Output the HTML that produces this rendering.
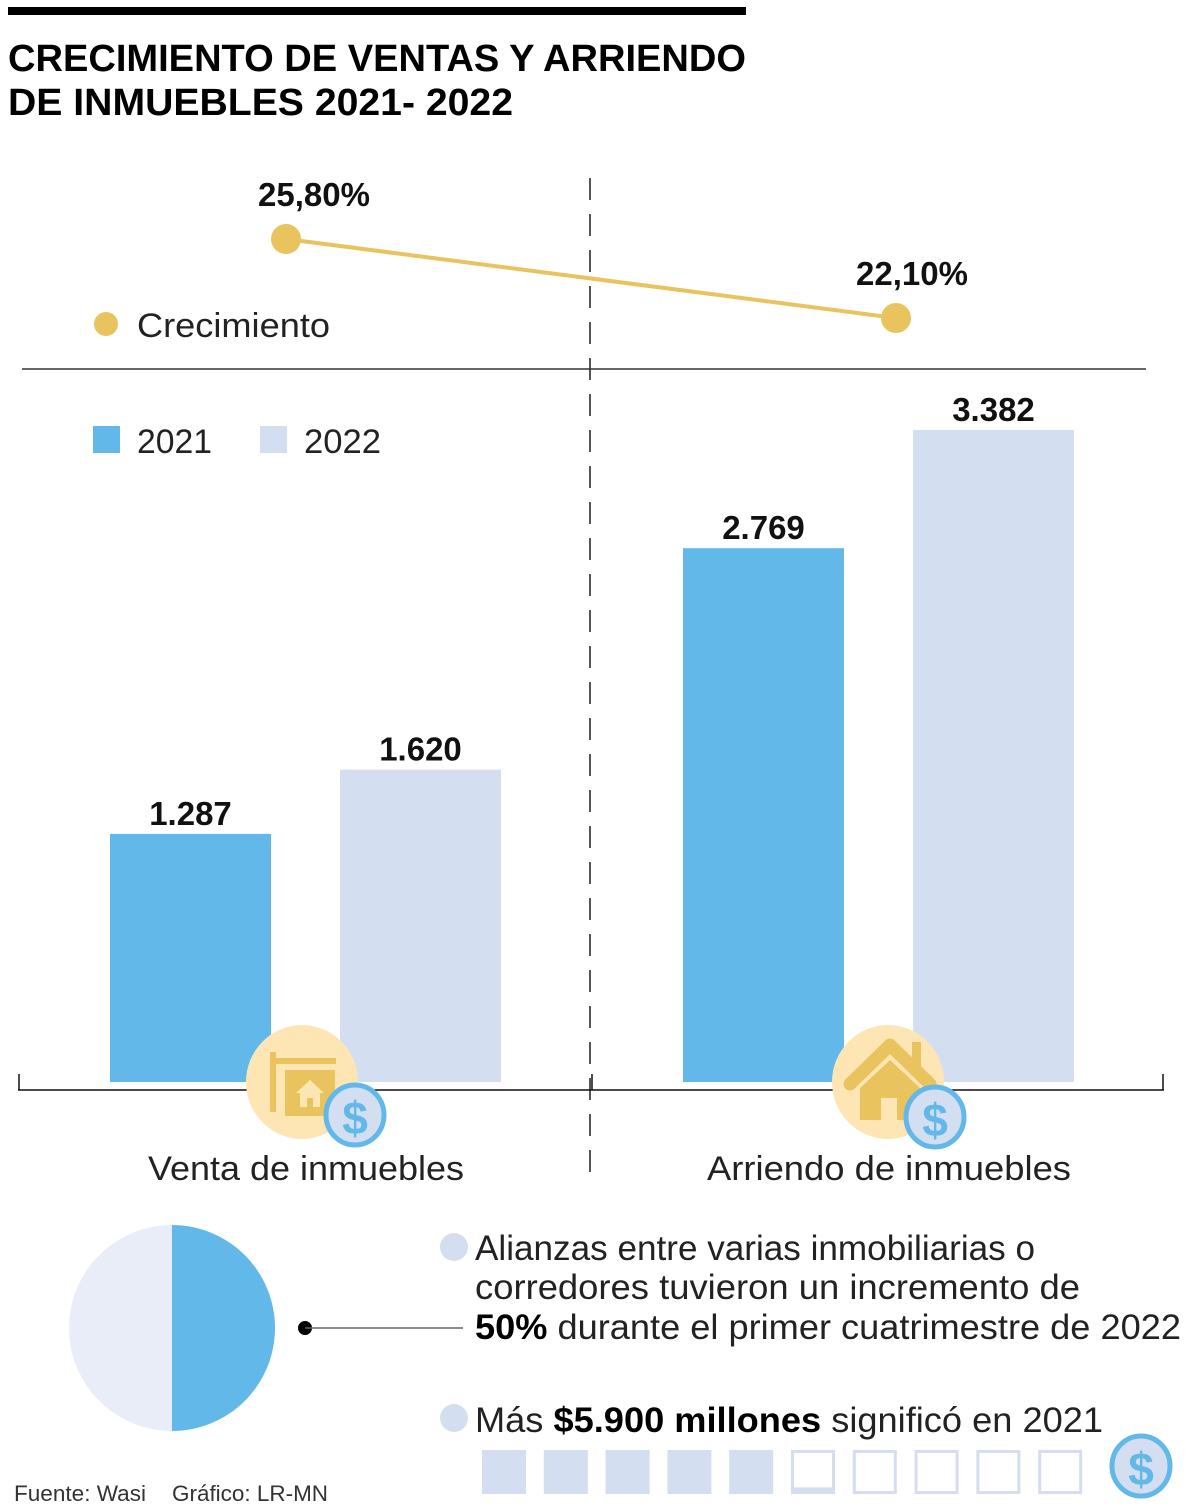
<!DOCTYPE html>
<html><head><meta charset="utf-8"><style>
html,body{margin:0;padding:0;background:#fff;}
svg{display:block;font-family:"Liberation Sans",sans-serif;}
</style></head><body>
<svg id="chart" width="1200" height="1510" viewBox="0 0 1200 1510" xmlns="http://www.w3.org/2000/svg">
<rect x="8" y="7" width="738" height="8" fill="#000"/>
<text x="8" y="71" font-size="38" font-weight="bold" textLength="738" lengthAdjust="spacingAndGlyphs">CRECIMIENTO DE VENTAS Y ARRIENDO</text>
<text x="8" y="115" font-size="38" font-weight="bold" textLength="505" lengthAdjust="spacingAndGlyphs">DE INMUEBLES 2021- 2022</text>

<line x1="590" y1="178" x2="590" y2="1180" stroke="#555" stroke-width="2" stroke-dasharray="22,14"/>
<line x1="22" y1="369" x2="1146" y2="369" stroke="#333" stroke-width="1.5"/>

<g id="lineG"></g>
<circle cx="106" cy="324" r="12" fill="#e9c35e"/>
<text x="137" y="337" font-size="34" fill="#222" textLength="193" lengthAdjust="spacingAndGlyphs">Crecimiento</text>

<rect x="93" y="426" width="27" height="27" fill="#62b8e8"/>
<text x="137" y="453" font-size="34" fill="#222" textLength="75" lengthAdjust="spacingAndGlyphs">2021</text>
<rect x="260" y="426" width="27" height="27" fill="#d3def0"/>
<text x="304" y="453" font-size="34" fill="#222" textLength="77" lengthAdjust="spacingAndGlyphs">2022</text>

<g id="barG"></g>
<line x1="18" y1="1090" x2="1164" y2="1090" stroke="#111" stroke-width="1.5"/>
<line x1="19" y1="1074" x2="19" y2="1090" stroke="#111" stroke-width="1.5"/>
<line x1="592" y1="1074" x2="592" y2="1090" stroke="#111" stroke-width="1.5"/>
<line x1="1163" y1="1074" x2="1163" y2="1090" stroke="#111" stroke-width="1.5"/>

<!-- icon 1: sale sign -->
<g>
<ellipse cx="302" cy="1082" rx="56" ry="57" fill="#fde6b4"/>
<rect x="270" y="1052" width="6" height="60" fill="#e9c35e"/>
<rect x="270" y="1058" width="66" height="6" fill="#e9c35e"/>
<rect x="285" y="1070" width="50" height="46" fill="#e9c35e"/>
<polygon points="310,1080 296,1093 324,1093" fill="#fde6b4"/>
<rect x="300" y="1093" width="20" height="14" fill="#fde6b4"/>
<rect x="307" y="1098" width="6" height="9" fill="#e9c35e"/>
<ellipse cx="355" cy="1115" rx="29" ry="30" fill="#d3def0" stroke="#62b8e8" stroke-width="5"/>
<text x="355" y="1134" font-size="46" font-weight="bold" fill="#62b8e8" text-anchor="middle">$</text>
</g>
<!-- icon 2: house -->
<g>
<ellipse cx="888" cy="1082" rx="56" ry="57" fill="#fde6b4"/>
<polyline points="850,1084 890,1045 930,1084" fill="none" stroke="#e9c35e" stroke-width="13" stroke-linecap="round" stroke-linejoin="round"/>
<rect x="912" y="1042" width="9" height="26" fill="#e9c35e"/>
<polygon points="890,1060 860,1088 860,1120 920,1120 920,1088" fill="#e9c35e"/>
<rect x="881" y="1098" width="16" height="22" fill="#fde6b4"/>
<ellipse cx="935" cy="1117" rx="29" ry="30" fill="#d3def0" stroke="#62b8e8" stroke-width="5"/>
<text x="935" y="1136" font-size="46" font-weight="bold" fill="#62b8e8" text-anchor="middle">$</text>
</g>

<text x="306" y="1180" font-size="34" fill="#222" text-anchor="middle" textLength="316" lengthAdjust="spacingAndGlyphs">Venta de inmuebles</text>
<text x="889" y="1180" font-size="34" fill="#222" text-anchor="middle" textLength="364" lengthAdjust="spacingAndGlyphs">Arriendo de inmuebles</text>

<g id="pieG"></g>
<circle cx="305" cy="1328" r="7" fill="#000"/>
<line x1="305" y1="1328" x2="463" y2="1328" stroke="#666" stroke-width="1.5"/>

<circle cx="454" cy="1247" r="14" fill="#d3def0"/>
<text x="475" y="1260" font-size="35" fill="#222" textLength="560" lengthAdjust="spacingAndGlyphs">Alianzas entre varias inmobiliarias o</text>
<text x="475" y="1299" font-size="35" fill="#222" textLength="605" lengthAdjust="spacingAndGlyphs">corredores tuvieron un incremento de</text>
<text x="475" y="1339" font-size="35" fill="#222" textLength="706" lengthAdjust="spacingAndGlyphs"><tspan font-weight="bold" fill="#000">50%</tspan> durante el primer cuatrimestre de 2022</text>

<circle cx="454" cy="1418" r="14" fill="#d3def0"/>
<text x="475" y="1432" font-size="35" fill="#222" textLength="628" lengthAdjust="spacingAndGlyphs">Más <tspan font-weight="bold" fill="#000">$5.900 millones</tspan> significó en 2021</text>

<g id="sqG"></g>
<ellipse cx="1141" cy="1466" rx="29" ry="30" fill="#d3def0" stroke="#62b8e8" stroke-width="5"/>
<text x="1141" y="1485" font-size="46" font-weight="bold" fill="#62b8e8" text-anchor="middle">$</text>

<text x="14" y="1501" font-size="22" fill="#333" textLength="132" lengthAdjust="spacingAndGlyphs">Fuente: Wasi</text>
<text x="172" y="1501" font-size="22" fill="#333" textLength="156" lengthAdjust="spacingAndGlyphs">Gráfico: LR-MN</text>
</svg>
<script>
const categories = ["Venta de inmuebles", "Arriendo de inmuebles"];
const values2021 = [1287, 2769];
const values2022 = [1620, 3382];
const labels2021 = ["1.287", "2.769"];
const labels2022 = ["1.620", "3.382"];
const growthValues = [25.8, 22.1];
const growthLabels = ["25,80%", "22,10%"];
const pieShares = [50, 50];
const squareFill = [1, 1, 1, 1, 1, 0.15, 0, 0, 0, 0];

const NS = "http://www.w3.org/2000/svg";
function mk(tag, attrs, parent){const e=document.createElementNS(NS,tag);for(const k in attrs)e.setAttribute(k,attrs[k]);parent.appendChild(e);return e;}

// bar scale
const baseY = 1082, maxV = 3382, maxH = 652;
const yB = v => baseY - v / maxV * maxH;
const groupX = [110, 683], barW = 161, gap = 69;
const barG = document.getElementById('barG');
categories.forEach((c, i) => {
  [[values2021, labels2021, '#62b8e8', '2021'], [values2022, labels2022, '#d3def0', '2022']].forEach((s, j) => {
    const x = groupX[i] + j * (barW + gap);
    const y = yB(s[0][i]);
    const r = mk('rect', {x: x, y: y, width: barW, height: baseY - y, fill: s[2]}, barG);
    
    
    const t = mk('text', {x: x + barW / 2, y: y - 9, 'font-size': 33, 'font-weight': 'bold', 'text-anchor': 'middle', fill: '#111'}, barG);
    t.textContent = s[1][i];
    
    
  });
});

// growth line scale
const yL = v => 239 + (25.8 - v) / (25.8 - 22.1) * 79;
const lineX = [286, 896];
const lineG = document.getElementById('lineG');
const pl = mk('polyline', {points: growthValues.map((v, i) => lineX[i] + ',' + yL(v)).join(' '), fill: 'none', stroke: '#e9c35e', 'stroke-width': 4}, lineG);


growthValues.forEach((v, i) => {
  const c = mk('circle', {cx: lineX[i], cy: yL(v), r: 15, fill: '#e9c35e'}, lineG);
  
  
  const t = mk('text', {x: lineX[i] + (i === 0 ? 28 : 16), y: yL(v) - 33, 'font-size': 33, 'font-weight': 'bold', 'text-anchor': 'middle', fill: '#111'}, lineG);
  t.textContent = growthLabels[i];
  
  
});

// pie
const pieG = document.getElementById('pieG');
const cx = 172, cy = 1328, R = 103;
const pieColors = ['#62b8e8', '#e8edf7'];
let a0 = -Math.PI / 2;
const tot = pieShares.reduce((a, b) => a + b, 0);
pieShares.forEach((v, i) => {
  const a1 = a0 + v / tot * 2 * Math.PI;
  const large = (a1 - a0) > Math.PI ? 1 : 0;
  const d = 'M' + cx + ',' + cy + ' L' + (cx + R * Math.cos(a0)) + ',' + (cy + R * Math.sin(a0)) +
    ' A' + R + ',' + R + ' 0 ' + large + ' 1 ' + (cx + R * Math.cos(a1)) + ',' + (cy + R * Math.sin(a1)) + ' Z';
  const p = mk('path', {d: d, fill: pieColors[i]}, pieG);
  
  
  a0 = a1;
});

// squares
const sqG = document.getElementById('sqG');
squareFill.forEach((f, i) => {
  const x = 482 + i * 61.8, y = 1450, w = 44, h = 44;
  if (f >= 1) {
    const r = mk('rect', {x: x, y: y, width: w, height: h, fill: '#d3def0'}, sqG);
    
    
  } else {
    const r = mk('rect', {x: x + 1.5, y: y + 1.5, width: w - 3, height: h - 3, fill: 'none', stroke: '#d3def0', 'stroke-width': 3}, sqG);
    
    
    if (f > 0) {
      const fh = h * f;
      const r2 = mk('rect', {x: x, y: y + h - fh, width: w, height: fh, fill: '#d3def0'}, sqG);
      
      
    }
  }
});
</script>
</body></html>
